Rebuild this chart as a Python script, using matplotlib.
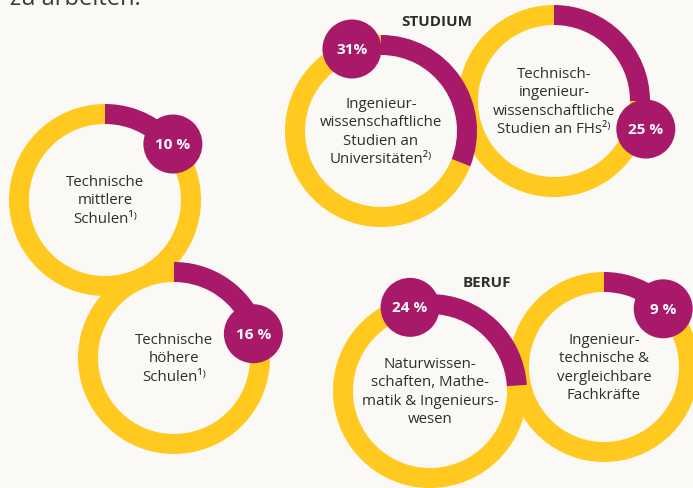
import matplotlib
matplotlib.use("Agg")
import matplotlib.pyplot as plt
from matplotlib.patches import Wedge, Circle
import numpy as np

# ---- data ----
labels = [
    "Ingenieur-\nwissenschaftliche\nStudien an\nUniversitäten²⁾",
    "Technisch-\ningenieur-\nwissenschaftliche\nStudien an FHs²⁾",
    "Technische\nmittlere\nSchulen¹⁾",
    "Technische\nhöhere\nSchulen¹⁾",
    "Naturwissen-\nschaften, Mathe-\nmatik & Ingenieurs-\nwesen",
    "Ingenieur-\ntechnische &\nvergleichbare\nFachkräfte",
]
shares = [31, 25, 10, 16, 24, 9]
pct_text = ["31%", "25 %", "10 %", "16 %", "24 %", "9 %"]
group_titles = ["STUDIUM", "BERUF"]
intro_text = "zu arbeiten."

# ---- layout (pixels) ----
W, H = 693, 489
centers = [(381, 132), (554, 102), (105, 201), (174, 359), (430, 392), (604, 368)]
radius = [96, 96, 96, 96, 97, 95]
ring_w = 20
bubble_ang = [-19.5, 107, 50.5, 73, -13.4, 45.5]   # degrees clockwise from top
bubble_dist = [87, 96, 88, 83, 86, 83]
bubble_r = 29.5
draw_order = [1, 0, 2, 3, 5, 4]
title_pos = [(437, 22), (487, 283)]

BG = "#FAF9F5"
YEL = "#FFC91F"
PUR = "#A8196A"
TXT = "#2E2E2E"
FONT = ["Open Sans", "DejaVu Sans"]

fig = plt.figure(figsize=(W / 100, H / 100), dpi=100, facecolor=BG)
ax = fig.add_axes([0, 0, 1, 1])
ax.set_xlim(0, W)
ax.set_ylim(H, 0)
ax.set_aspect("equal")
ax.axis("off")
ax.set_facecolor(BG)

for i in draw_order:
    c = centers[i]
    R = radius[i]
    p = shares[i] / 100.0
    start = -90
    end = -90 + 360 * p
    ax.add_patch(Wedge(c, R, end, 270, width=ring_w, facecolor=YEL, edgecolor="none"))
    ax.add_patch(Wedge(c, R, start, end, width=ring_w, facecolor=PUR, edgecolor="none"))
    a = np.deg2rad(-90 + bubble_ang[i])
    bx = c[0] + bubble_dist[i] * np.cos(a)
    by = c[1] + bubble_dist[i] * np.sin(a)
    ax.add_patch(Circle((bx, by), bubble_r, facecolor=PUR, edgecolor="none", zorder=3))
    ax.text(bx, by, pct_text[i], color="white", fontsize=11, fontweight="bold",
            ha="center", va="center", family=FONT, zorder=4)
    ax.text(c[0], c[1], labels[i], color=TXT, fontsize=10.8, ha="center", va="center",
            linespacing=1.3, family=FONT, zorder=4)

for t, (x, y) in zip(group_titles, title_pos):
    ax.text(x, y, t, color=TXT, fontsize=11, fontweight="bold", ha="center", va="center",
            family=FONT)

ax.text(10, 5, intro_text, color="#3A3A3A", fontsize=17, ha="left", va="baseline",
        family=FONT)

fig.savefig("out.png", dpi=100, facecolor=BG)
